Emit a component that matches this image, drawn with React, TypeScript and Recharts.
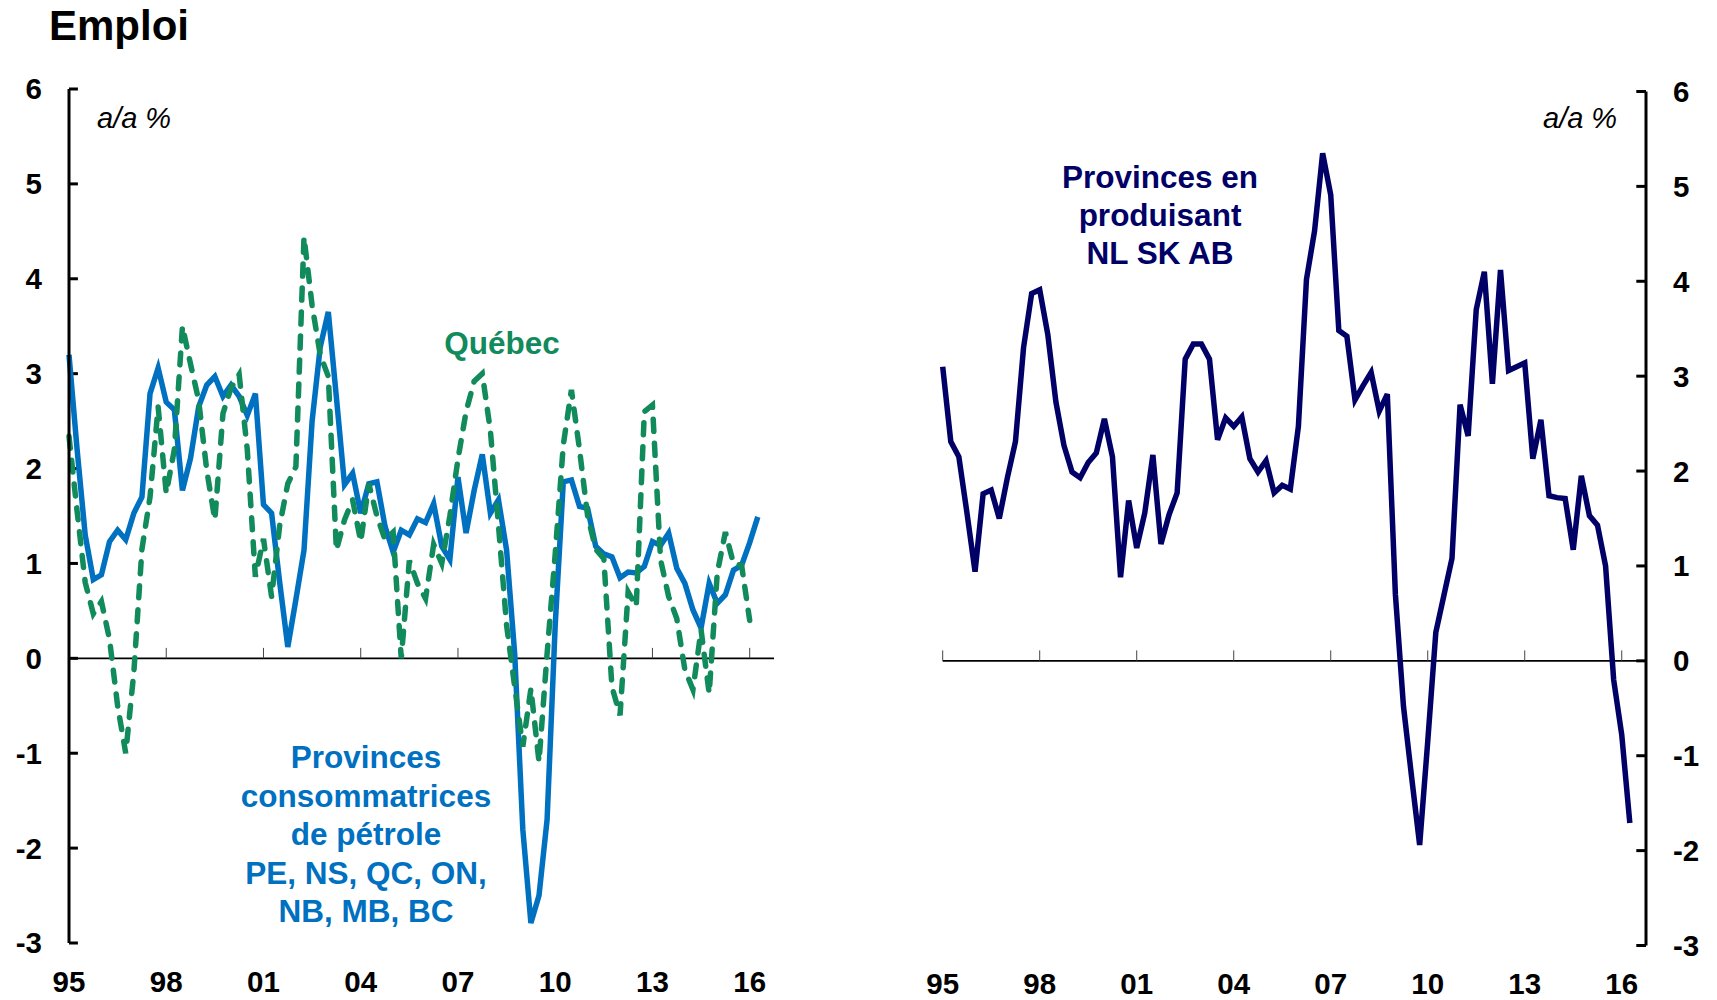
import { LineChart, Line, XAxis, YAxis, ReferenceLine } from 'recharts';

// quarterly, index 0 = 1995 Q1
const yearTicks = [0, 12, 24, 36, 48, 60, 72, 84];
const yearLabels = ['95', '98', '01', '04', '07', '10', '13', '16'];
const yTicks = [-3, -2, -1, 0, 1, 2, 3, 4, 5, 6];

// oil consuming provinces (PE, NS, QC, ON, NB, MB, BC), y/y %
const consumers = [
  3.2, 2.2, 1.3, 0.83, 0.88, 1.23, 1.35, 1.25, 1.53, 1.7,
  2.79, 3.06, 2.7, 2.62, 1.77, 2.11, 2.65, 2.88, 2.97, 2.76,
  2.88, 2.76, 2.56, 2.79, 1.62, 1.53, 0.8, 0.12, 0.62, 1.14,
  2.5, 3.28, 3.65, 2.75, 1.83, 1.95, 1.53, 1.84, 1.86, 1.39,
  1.12, 1.35, 1.3, 1.47, 1.43, 1.63, 1.18, 1.04, 1.91, 1.32,
  1.77, 2.15, 1.53, 1.67, 1.14, 0.05, -1.8, -2.79, -2.5, -1.7,
  0.35, 1.86, 1.88, 1.6, 1.58, 1.18, 1.1, 1.07, 0.85, 0.91,
  0.9, 0.97, 1.23, 1.19, 1.32, 0.95, 0.79, 0.51, 0.32, 0.79,
  0.58, 0.67, 0.93, 0.98, 1.22, 1.49,
];

// Québec, y/y %
const quebec = [
  2.34, 1.55, 0.8, 0.47, 0.6, 0.2, -0.5, -1.0, -0.15, 1.15,
  1.7, 2.65, 1.74, 2.2, 3.5, 3.1, 2.72, 1.98, 1.46, 2.58,
  2.85, 2.99, 2.2, 0.86, 1.26, 0.65, 1.4, 1.84, 2.02, 4.44,
  3.72, 3.2, 2.97, 1.14, 1.46, 1.67, 1.23, 1.84, 1.5, 1.25,
  1.33, 0.0, 1.03, 0.79, 0.63, 1.2, 1.0, 1.5, 2.1, 2.6,
  2.92, 3.0, 2.4, 1.4, 0.35, -0.3, -0.93, -0.32, -1.09, 0.05,
  1.1, 2.25, 2.83, 2.2, 1.5, 1.15, 1.05, -0.3, -0.6, 0.7,
  0.55, 2.6, 2.67, 1.04, 0.65, 0.42, -0.12, -0.33, 0.3, -0.37,
  0.9, 1.33, 1.0, 0.98, 0.4,
];

// oil producing provinces (NL, SK, AB), y/y %
const producers = [
  3.1, 2.31, 2.15, 1.56, 0.94, 1.76, 1.8, 1.5, 1.93, 2.31,
  3.3, 3.87, 3.91, 3.44, 2.73, 2.27, 1.99, 1.93, 2.09, 2.19,
  2.55, 2.15, 0.88, 1.69, 1.19, 1.56, 2.17, 1.23, 1.54, 1.77,
  3.18, 3.34, 3.34, 3.18, 2.33, 2.56, 2.47, 2.57, 2.13, 1.99,
  2.11, 1.77, 1.85, 1.81, 2.47, 4.02, 4.53, 5.35, 4.91, 3.48,
  3.42, 2.75, 2.9, 3.04, 2.63, 2.81, 0.7, -0.48, -1.22, -1.94,
  -0.85, 0.3, 0.69, 1.08, 2.7, 2.37, 3.7, 4.1, 2.92, 4.12,
  3.06, 3.1, 3.14, 2.13, 2.54, 1.74, 1.72, 1.71, 1.17, 1.95,
  1.53, 1.43, 1.0, -0.2, -0.78, -1.71,
];

const FONT = 'Liberation Sans, Arial, Helvetica, sans-serif';
const BLUE = '#0070c0';
const GREEN = '#118a5c';
const NAVY = '#000066';

const leftData = consumers.map((v, i) => ({ q: i, consumers: v, quebec: quebec[i] }));
const rightData = producers.map((v, i) => ({ q: i, producers: v }));

const yearFmt = (q: number) => yearLabels[yearTicks.indexOf(q)] ?? '';
const tickStyle = { fill: '#000', fontSize: 29.5, fontWeight: 700, fontFamily: FONT };

function LeftChart() {
  return (
    <LineChart width={800} height={1000} data={leftData} margin={{ top: 89, right: 26, bottom: 17, left: 9 }}>
      <XAxis
        dataKey="q"
        type="number"
        domain={[0, 87]}
        ticks={yearTicks}
        interval={0}
        tickFormatter={yearFmt}
        axisLine={false}
        tickLine={false}
        tickSize={0}
        tickMargin={28}
        height={40}
        tick={tickStyle}
      />
      <YAxis
        domain={[-3, 6]}
        ticks={yTicks}
        interval={0}
        width={60}
        axisLine={{ stroke: '#000', strokeWidth: 3 }}
        tickLine={false}
        tickSize={0}
        tickMargin={27}
        tick={tickStyle}
      />
      <ReferenceLine y={0} stroke="#000" strokeWidth={1.6} />
      {yTicks.map((t) => (
        <ReferenceLine key={'ly' + t} segment={[{ x: 0, y: t }, { x: 1.1, y: t }]} stroke="#000" strokeWidth={3} />
      ))}
      {yearTicks.slice(1).map((t) => (
        <ReferenceLine key={'lx' + t} segment={[{ x: t, y: 0 }, { x: t, y: 0.11 }]} stroke="#444" strokeWidth={1} />
      ))}
      <Line type="linear" dataKey="consumers" stroke={BLUE} strokeWidth={5.5} dot={false} isAnimationActive={false} />
      <Line
        type="linear"
        dataKey="quebec"
        stroke={GREEN}
        strokeWidth={5.5}
        strokeDasharray="12 12"
        strokeLinecap="round"
        dot={false}
        isAnimationActive={false}
      />
    </LineChart>
  );
}

function RightChart() {
  return (
    <LineChart width={817} height={1000} data={rightData} margin={{ top: 91.5, right: 11, bottom: 14.5, left: 42.7 }}>
      <XAxis
        dataKey="q"
        type="number"
        domain={[0, 87]}
        ticks={yearTicks}
        interval={0}
        tickFormatter={yearFmt}
        axisLine={false}
        tickLine={false}
        tickSize={0}
        tickMargin={28}
        height={40}
        tick={tickStyle}
      />
      <YAxis
        orientation="right"
        domain={[-3, 6]}
        ticks={yTicks}
        interval={0}
        width={60}
        axisLine={{ stroke: '#000', strokeWidth: 3 }}
        tickLine={false}
        tickSize={0}
        tickMargin={27}
        tick={tickStyle}
      />
      <ReferenceLine y={0} stroke="#000" strokeWidth={1.6} />
      {yTicks.map((t) => (
        <ReferenceLine key={'ry' + t} segment={[{ x: 85.8, y: t }, { x: 87, y: t }]} stroke="#000" strokeWidth={3} />
      ))}
      {yearTicks.map((t) => (
        <ReferenceLine key={'rx' + t} segment={[{ x: t, y: 0 }, { x: t, y: 0.11 }]} stroke="#444" strokeWidth={1} />
      ))}
      <Line type="linear" dataKey="producers" stroke={NAVY} strokeWidth={5.5} dot={false} isAnimationActive={false} />
    </LineChart>
  );
}

const blueNote = ['Provinces', 'consommatrices', 'de pétrole', 'PE, NS, QC, ON,', 'NB, MB, BC'];
const navyNote = ['Provinces en', 'produisant', 'NL SK AB'];

export default function App() {
  return (
    <div
      style={{
        position: 'absolute',
        left: 0,
        top: 0,
        width: 1717,
        height: 1000,
        background: '#fff',
        overflow: 'hidden',
        fontFamily: FONT,
      }}
    >
      <div style={{ position: 'absolute', left: 0, top: 0 }}>
        <LeftChart />
      </div>
      <div style={{ position: 'absolute', left: 900, top: 0 }}>
        <RightChart />
      </div>
      <svg
        width={1717}
        height={1000}
        style={{ position: 'absolute', left: 0, top: 0, pointerEvents: 'none' }}
        fontFamily={FONT}
      >
        <text x={49} y={40} fontSize={42} fontWeight={700} fill="#000">
          Emploi
        </text>
        <text x={97} y={128} fontSize={29} fontStyle="italic" fill="#000">
          a/a %
        </text>
        <text x={1543} y={128} fontSize={29} fontStyle="italic" fill="#000">
          a/a %
        </text>
        <text x={502} y={354} fontSize={31.5} fontWeight={700} fill={GREEN} textAnchor="middle">
          Québec
        </text>
        {blueNote.map((s, k) => (
          <text key={s} x={366} y={768 + k * 38.5} fontSize={31.5} fontWeight={700} fill={BLUE} textAnchor="middle">
            {s}
          </text>
        ))}
        {navyNote.map((s, k) => (
          <text key={s} x={1160} y={188 + k * 38.2} fontSize={31.5} fontWeight={700} fill={NAVY} textAnchor="middle">
            {s}
          </text>
        ))}
      </svg>
    </div>
  );
}
